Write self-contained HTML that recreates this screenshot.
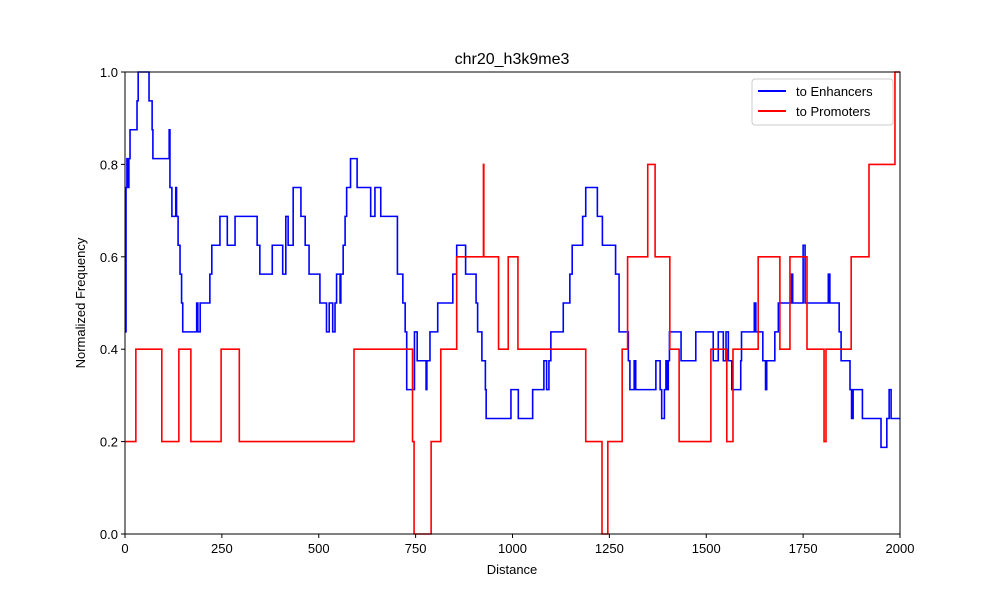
<!DOCTYPE html>
<html><head><meta charset="utf-8"><style>
body{margin:0;background:#fff;}
svg{display:block;font-family:"Liberation Sans","DejaVu Sans",sans-serif;}
</style></head><body>
<svg id="chart" width="1000" height="600" viewBox="0 0 1000 600">
<rect width="1000" height="600" fill="#fff"/>
<text x="512" y="64" text-anchor="middle" font-size="16">chr20_h3k9me3</text>
<g id="series"></g>
<g id="axes"></g>
<text x="512" y="574" text-anchor="middle" font-size="13">Distance</text>
<text x="85" y="303" text-anchor="middle" font-size="13" transform="rotate(-90 85 303)">Normalized Frequency</text>
<g>
<rect x="752" y="79" width="141" height="46" rx="3" fill="#fff" fill-opacity="0.8" stroke="#ccc"/>
<line x1="758" y1="91" x2="786" y2="91" stroke="#0000ff" stroke-width="2"/>
<text x="796" y="96" font-size="13">to Enhancers</text>
<line x1="758" y1="111" x2="786" y2="111" stroke="#ff0000" stroke-width="2"/>
<text x="796" y="116" font-size="13">to Promoters</text>
</g>
</svg>
<script>
const xTicks=[0,250,500,750,1000,1250,1500,1750,2000];
const yTicks=[0,0.2,0.4,0.6,0.8,1.0];
const yTickLabels=["0.0","0.2","0.4","0.6","0.8","1.0"];
const enhX=[0,2.6,5,8,10,13,31,34,62,70,72,114,116,121,131,133,137,142,146,149,185,188,194,219,224,245,264,284,341,348,380,407,415,421,434,454,465,475,503,520,527,536,542,546,555,557,563,568,572,582,599,634,645,660,662,703,717,723,727,747,754,777,779,787,807,846,856,879,906,910,921,930,932,996,1015,1052,1081,1088,1094,1099,1131,1148,1154,1181,1189,1219,1232,1266,1275,1299,1303,1314,1318,1370,1381,1385,1392,1396,1399,1402,1405,1435,1473,1518,1531,1544,1551,1557,1566,1589,1591,1624,1628,1646,1653,1656,1677,1686,1720,1723,1750,1755,1815,1819,1843,1848,1871,1875,1879,1903,1951,1966,1972,1977];
const enhY=[0.4375,0.75,0.8125,0.75,0.8125,0.875,0.9375,1.0,0.9375,0.875,0.8125,0.875,0.75,0.6875,0.75,0.6875,0.625,0.5625,0.5,0.4375,0.5,0.4375,0.5,0.5625,0.625,0.6875,0.625,0.6875,0.625,0.5625,0.625,0.5625,0.6875,0.625,0.75,0.6875,0.625,0.5625,0.5,0.4375,0.5,0.4375,0.5,0.5625,0.5,0.5625,0.625,0.6875,0.75,0.8125,0.75,0.6875,0.75,0.6875,0.6875,0.5625,0.5,0.4375,0.3125,0.4375,0.375,0.3125,0.375,0.4375,0.5,0.5625,0.625,0.5625,0.5,0.4375,0.375,0.3125,0.25,0.3125,0.25,0.3125,0.375,0.3125,0.375,0.4375,0.5,0.5625,0.625,0.6875,0.75,0.6875,0.625,0.5625,0.4375,0.375,0.3125,0.375,0.3125,0.375,0.3125,0.25,0.3125,0.375,0.3125,0.375,0.4375,0.375,0.4375,0.375,0.4375,0.375,0.4375,0.375,0.3125,0.375,0.4375,0.5,0.4375,0.375,0.3125,0.375,0.4375,0.5,0.5625,0.5,0.625,0.5,0.5625,0.5,0.4375,0.375,0.3125,0.25,0.3125,0.25,0.1875,0.25,0.3125,0.25];
const proX=[0,28,95,139,170,248,295,591,742,746,790,815,856,925,926,964,989,1014,1189,1231,1246,1283,1297,1349,1368,1406,1430,1512,1553,1569,1634,1690,1716,1760,1804,1809,1874,1920,1987];
const proY=[0.2,0.4,0.2,0.4,0.2,0.4,0.2,0.4,0.2,0,0.2,0.4,0.6,0.8,0.6,0.4,0.6,0.4,0.2,0,0.2,0.4,0.6,0.8,0.6,0.4,0.2,0.4,0.2,0.4,0.6,0.4,0.6,0.4,0.2,0.4,0.6,0.8,1.0];
const X0=125,X1=900,Y0=534,Y1=72,XMAX=2000;
function sx(v){return X0+(X1-X0)*v/XMAX;}
function sy(v){return Y0-(Y0-Y1)*v;}
const NS="http://www.w3.org/2000/svg";
function stepPath(xs,ys){
  let d="M"+sx(xs[0])+","+sy(ys[0]);
  for(let i=1;i<xs.length;i++){d+=" H"+sx(xs[i])+" V"+sy(ys[i]);}
  d+=" H"+sx(XMAX);
  return d;
}
const g=document.getElementById("series");
const pEnh=document.createElementNS(NS,"path");
pEnh.setAttribute("d",stepPath(enhX,enhY));
pEnh.setAttribute("fill","none");pEnh.setAttribute("stroke","#0000ff");pEnh.setAttribute("stroke-width","1.6");


g.appendChild(pEnh);
const pPro=document.createElementNS(NS,"path");
pPro.setAttribute("d",stepPath(proX,proY));
pPro.setAttribute("fill","none");pPro.setAttribute("stroke","#ff0000");pPro.setAttribute("stroke-width","1.6");


g.appendChild(pPro);
const a=document.getElementById("axes");
const frame=document.createElementNS(NS,"rect");
frame.setAttribute("x",X0);frame.setAttribute("y",Y1);frame.setAttribute("width",X1-X0);frame.setAttribute("height",Y0-Y1);
frame.setAttribute("fill","none");frame.setAttribute("stroke","#000");frame.setAttribute("stroke-width","1");


a.appendChild(frame);
xTicks.forEach(t=>{
  const l=document.createElementNS(NS,"line");
  l.setAttribute("x1",sx(t));l.setAttribute("x2",sx(t));l.setAttribute("y1",Y0);l.setAttribute("y2",Y0+4);l.setAttribute("stroke","#000");
  
  
  a.appendChild(l);
  const tx=document.createElementNS(NS,"text");
  tx.setAttribute("x",sx(t));tx.setAttribute("y",Y0+19);tx.setAttribute("text-anchor","middle");tx.setAttribute("font-size","13");
  tx.textContent=String(t);
  
  
  a.appendChild(tx);
});
yTicks.forEach((t,i)=>{
  const l=document.createElementNS(NS,"line");
  l.setAttribute("x1",X0-4);l.setAttribute("x2",X0);l.setAttribute("y1",sy(t));l.setAttribute("y2",sy(t));l.setAttribute("stroke","#000");
  
  
  a.appendChild(l);
  const tx=document.createElementNS(NS,"text");
  tx.setAttribute("x",X0-7);tx.setAttribute("y",sy(t)+5);tx.setAttribute("text-anchor","end");tx.setAttribute("font-size","13");
  tx.textContent=yTickLabels[i];
  
  
  a.appendChild(tx);
});
</script>
</body></html>
